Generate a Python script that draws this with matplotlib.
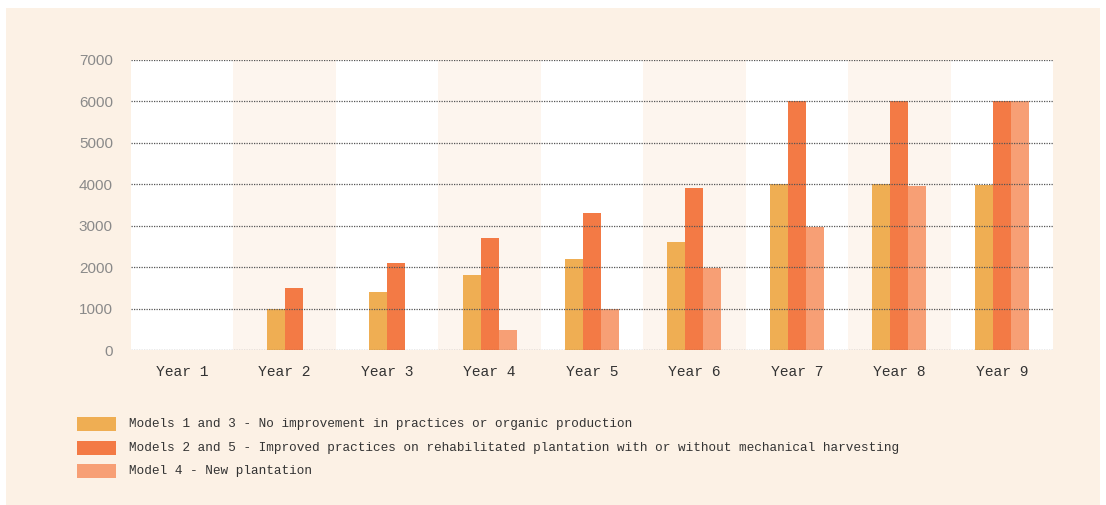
import matplotlib.pyplot as plt
from matplotlib.patches import Rectangle

years = ['Year 1', 'Year 2', 'Year 3', 'Year 4', 'Year 5',
         'Year 6', 'Year 7', 'Year 8', 'Year 9']
models_1_3 = [None, 1000, 1400, 1800, 2200, 2600, 4000, 4000, 3980]
models_2_5 = [None, 1500, 2100, 2700, 3300, 3900, 6000, 6000, 6000]
model_4 = [None, None, None, 480, 980, 1980, 2980, 3960, 6000]

labels = ['Models 1 and 3 - No improvement in practices or organic production',
          'Models 2 and 5 - Improved practices on rehabilitated plantation with or without mechanical harvesting',
          'Model 4 - New plantation']
colors = ['#EFAE53', '#F37A45', '#F79F75']
series = [models_1_3, models_2_5, model_4]

cream = '#FCF1E5'
band = '#FDF5EE'
mono = 'Liberation Mono'

W, H = 1106, 505
fig = plt.figure(figsize=(W / 100, H / 100), dpi=100)
fig.patch.set_facecolor('white')
fig.add_artist(Rectangle((6 / W, 0), 1094 / W, 497 / H, transform=fig.transFigure,
                         facecolor=cream, edgecolor='none', zorder=-10))

ax = fig.add_axes([131 / W, 1 - 350 / H, 922 / W, 290 / H])
ax.set_facecolor('white')
ax.set_xlim(-0.5, len(years) - 0.5)
ax.set_ylim(0, 7000)

for i in range(len(years)):
    if i % 2 == 1:
        ax.axvspan(i - 0.5, i + 0.5, color=band, zorder=0, lw=0)

bw = 0.176
for i in range(len(years)):
    present = [k for k in range(3) if series[k][i] is not None]
    n = len(present)
    for j, k in enumerate(present):
        x = i + (j - (n - 1) / 2) * bw
        ax.bar(x, series[k][i], width=bw, color=colors[k], zorder=2, lw=0)

ax.set_yticks(range(0, 7001, 1000))
ax.grid(axis='y', linestyle=(0, (1, 1)), color='#555555', linewidth=0.9, zorder=3)
ax.set_axisbelow(False)
for s in ax.spines.values():
    s.set_visible(False)
ax.tick_params(length=0)
ax.tick_params(axis='y', pad=13, labelsize=11, labelcolor='#8a8a8a')
ax.tick_params(axis='x', pad=11, labelsize=10.5, labelcolor='#333333')
ax.set_xticks(range(len(years)))
ax.set_xticklabels(years, fontfamily=mono)
for t in ax.get_yticklabels():
    t.set_fontfamily('Liberation Sans')

for k in range(3):
    y = 417 + k * 23.5
    fig.add_artist(Rectangle((77 / W, 1 - (y + 14) / H), 39 / W, 14 / H,
                             transform=fig.transFigure, facecolor=colors[k],
                             edgecolor='none'))
    fig.text(129 / W, 1 - (y + 7) / H, labels[k], fontfamily=mono, fontsize=9.2,
             color='#333333', va='center', ha='left')

fig.savefig('out.png', dpi=100)
